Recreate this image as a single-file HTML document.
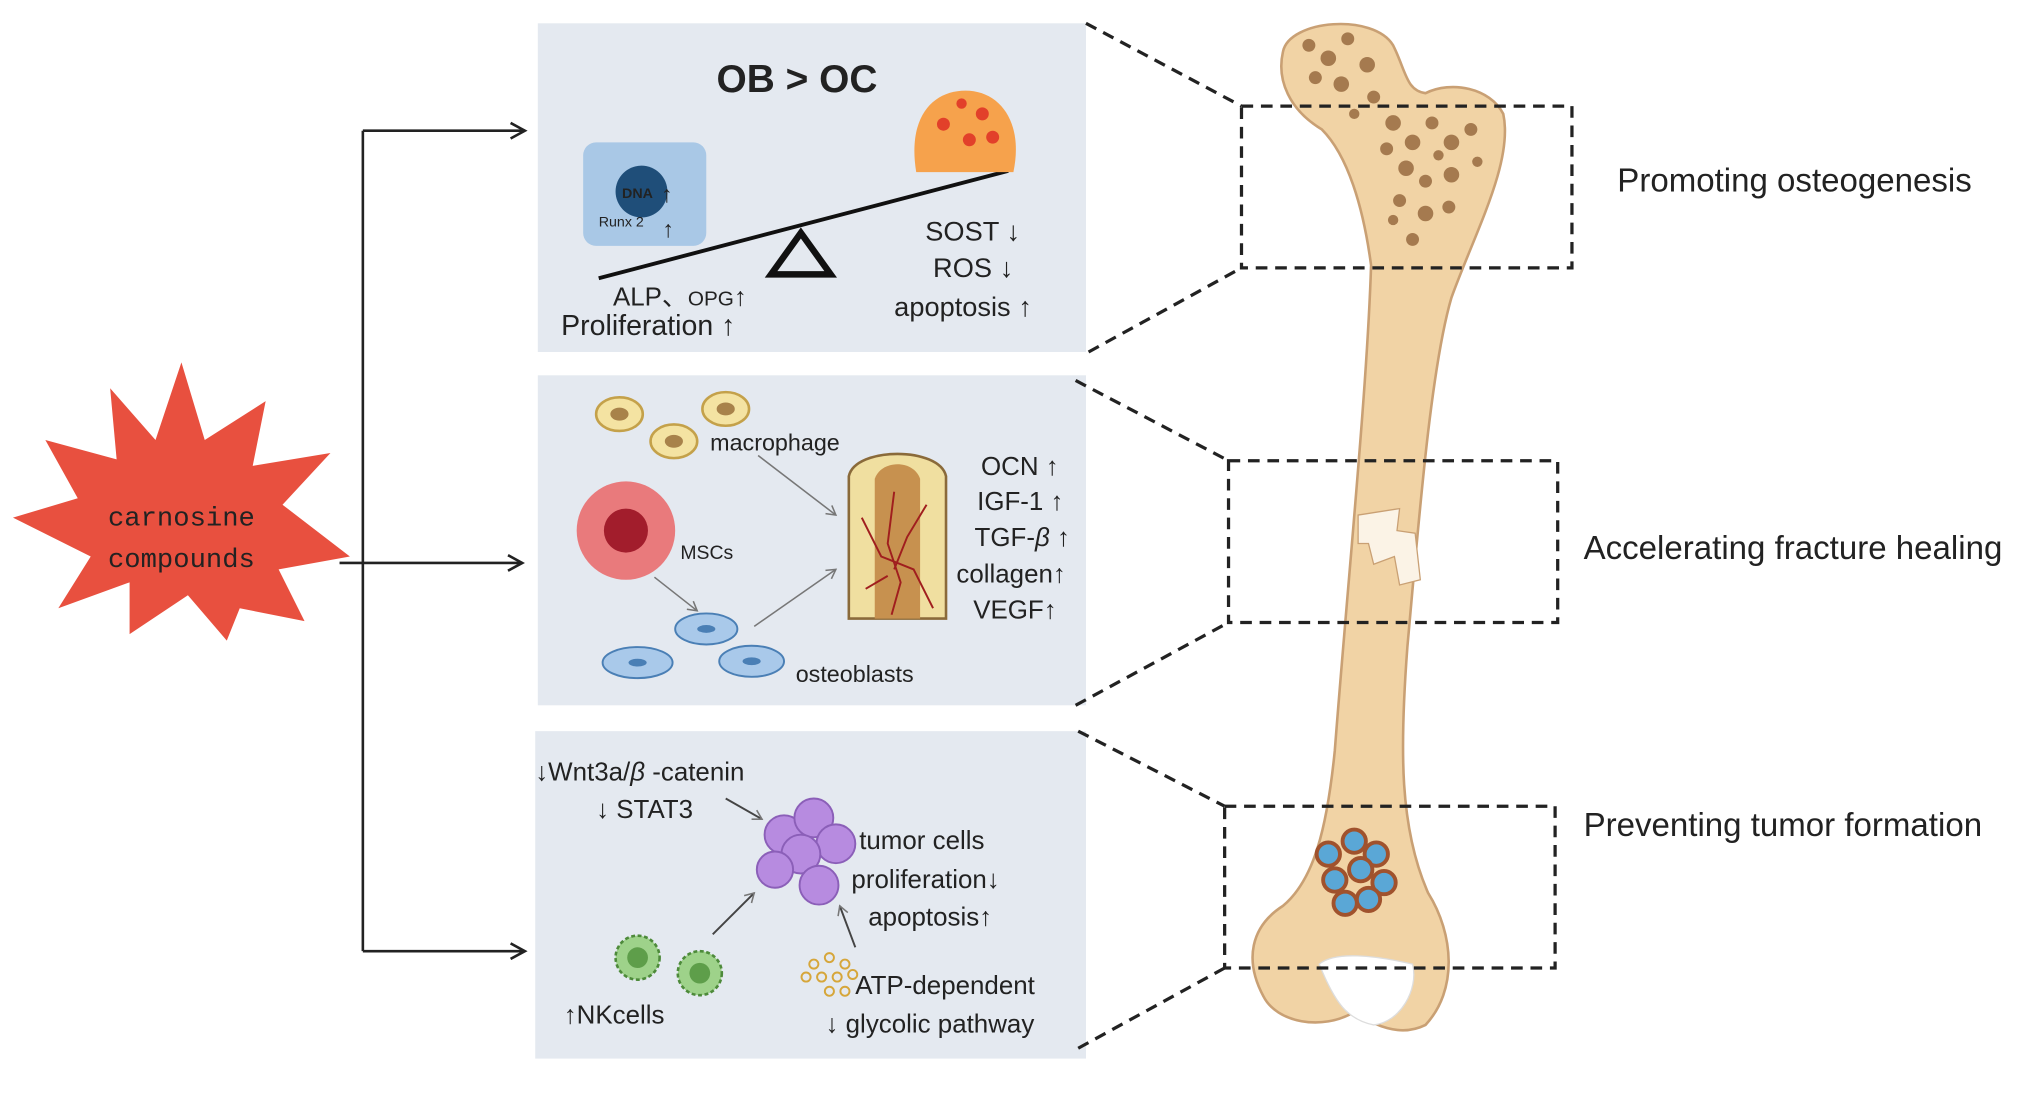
<!DOCTYPE html>
<html><head><meta charset="utf-8"><style>
html,body{margin:0;padding:0;background:#fff;width:2032px;height:1100px;overflow:hidden}
svg{display:block}
text{font-family:"Liberation Sans",sans-serif;fill:#222}
</style></head><body>
<svg width="2032" height="1100" viewBox="0 0 1568 850" preserveAspectRatio="none" xmlns="http://www.w3.org/2000/svg">
<defs>
<marker id="ah" markerWidth="14" markerHeight="14" refX="12" refY="7" orient="auto" markerUnits="userSpaceOnUse">
<path d="M1,1 L12,7 L1,13" fill="none" stroke="#222" stroke-width="2"/></marker>
<marker id="sa" markerWidth="10" markerHeight="10" refX="8" refY="5" orient="auto" markerUnits="userSpaceOnUse">
<path d="M1,1 L8,5 L1,9" fill="none" stroke="#777" stroke-width="1.2"/></marker>
</defs>

<polygon fill="#e8503f" points="140,280 158,340 205,310 195,360 255,350 218,390 270,430 215,440 235,480 185,470 175,495 145,460 100,490 100,450 45,470 70,430 10,400 60,385 35,340 90,355 85,300 120,340" />
<text x="140" y="406" text-anchor="middle" style="font-family:'Liberation Mono',monospace;font-size:21px">carnosine</text>
<text x="140" y="438" text-anchor="middle" style="font-family:'Liberation Mono',monospace;font-size:21px">compounds</text>

<g stroke="#222" stroke-width="2" fill="none">
<line x1="262" y1="435" x2="280" y2="435"/>
<line x1="280" y1="101" x2="280" y2="735"/>
<line x1="280" y1="101" x2="405" y2="101" marker-end="url(#ah)"/>
<line x1="280" y1="435" x2="403" y2="435" marker-end="url(#ah)"/>
<line x1="280" y1="735" x2="405" y2="735" marker-end="url(#ah)"/>
</g>

<rect x="415" y="18" width="423" height="254" fill="#e4e9f0"/>
<rect x="415" y="290" width="423" height="255" fill="#e4e9f0"/>
<rect x="413" y="565" width="425" height="253" fill="#e4e9f0"/>

<text x="615" y="71" text-anchor="middle" style="font-size:30px;font-weight:bold">OB &gt; OC</text>
<rect x="450" y="110" width="95" height="80" rx="10" fill="#a9c8e6"/>
<circle cx="495" cy="148" r="20" fill="#1f4e79"/>
<text x="480" y="153" style="font-size:11px;font-weight:bold">DNA</text>
<text x="510" y="156" style="font-size:18px">↑</text>
<text x="462" y="175" style="font-size:11px">Runx 2</text>
<text x="511" y="183" style="font-size:18px">↑</text>
<line x1="462" y1="215" x2="778" y2="132" stroke="#111" stroke-width="3"/>
<polygon points="618,180 595,212 641,212" fill="none" stroke="#111" stroke-width="5"/>
<path d="M707,133 C700,90 720,70 745,70 C772,70 790,95 782,133 Z" fill="#f6a24c"/>
<circle cx="728" cy="96" r="5" fill="#e2402a"/><circle cx="758" cy="88" r="5" fill="#e2402a"/>
<circle cx="748" cy="108" r="5" fill="#e2402a"/><circle cx="766" cy="106" r="5" fill="#e2402a"/>
<circle cx="742" cy="80" r="4" fill="#e2402a"/>
<text x="473" y="236" style="font-size:20px">ALP、<tspan style="font-size:16px">OPG</tspan>↑</text>
<text x="433" y="259" style="font-size:22px">Proliferation ↑</text>
<text x="714" y="186" style="font-size:21px">SOST ↓</text>
<text x="720" y="214" style="font-size:21px">ROS ↓</text>
<text x="690" y="244" style="font-size:21px">apoptosis ↑</text>

<g fill="#f4e3a2" stroke="#c4a14a" stroke-width="2">
<ellipse cx="478" cy="320" rx="18" ry="13"/><ellipse cx="520" cy="341" rx="18" ry="13"/><ellipse cx="560" cy="316" rx="18" ry="13"/></g>
<g fill="#a8824a"><ellipse cx="478" cy="320" rx="7" ry="5"/><ellipse cx="520" cy="341" rx="7" ry="5"/><ellipse cx="560" cy="316" rx="7" ry="5"/></g>
<text x="548" y="348" style="font-size:18px">macrophage</text>
<circle cx="483" cy="410" r="38" fill="#e97a7c"/>
<circle cx="483" cy="410" r="17" fill="#a21d2c"/>
<text x="525" y="432" style="font-size:15px">MSCs</text>
<g fill="#a9c9ea" stroke="#4a7fb5" stroke-width="1.5">
<ellipse cx="492" cy="512" rx="27" ry="12"/><ellipse cx="545" cy="486" rx="24" ry="12"/><ellipse cx="580" cy="511" rx="25" ry="12"/></g>
<g fill="#4a7fb5"><ellipse cx="492" cy="512" rx="7" ry="3"/><ellipse cx="545" cy="486" rx="7" ry="3"/><ellipse cx="580" cy="511" rx="7" ry="3"/></g>
<text x="614" y="527" style="font-size:18px">osteoblasts</text>
<g stroke="#777" stroke-width="1.2">
<line x1="585" y1="352" x2="645" y2="398" marker-end="url(#sa)"/>
<line x1="505" y1="446" x2="538" y2="472" marker-end="url(#sa)"/>
<line x1="582" y1="484" x2="645" y2="440" marker-end="url(#sa)"/>
</g>
<path d="M655,368 C660,345 725,345 730,368 L730,478 L655,478 Z" fill="#f0dfa0" stroke="#8a6a3a" stroke-width="2"/>
<path d="M675,370 C680,355 705,355 710,370 L710,478 L675,478 Z" fill="#c7914f"/>
<g stroke="#a01e1e" stroke-width="1.5" fill="none">
<path d="M690,380 L685,420 L695,450 L688,475"/><path d="M665,400 L680,430 L705,440 L720,470"/><path d="M715,390 L700,415 L690,440"/><path d="M668,455 L685,445"/></g>
<text x="757" y="367" style="font-size:20px">OCN ↑</text>
<text x="754" y="394" style="font-size:20px">IGF-1 ↑</text>
<text x="752" y="422" style="font-size:20px">TGF-<tspan font-style="italic">β</tspan> ↑</text>
<text x="738" y="450" style="font-size:20px">collagen↑</text>
<text x="751" y="478" style="font-size:20px">VEGF↑</text>

<text x="413" y="603" style="font-size:20px">↓Wnt3a/<tspan font-style="italic">β</tspan> -catenin</text>
<text x="460" y="632" style="font-size:20px">↓ STAT3</text>
<g fill="#b78be0" stroke="#8b5fb8" stroke-width="1.5">
<circle cx="605" cy="645" r="15"/><circle cx="628" cy="632" r="15"/><circle cx="645" cy="652" r="15"/><circle cx="618" cy="660" r="15"/><circle cx="598" cy="672" r="14"/><circle cx="632" cy="684" r="15"/></g>
<line x1="560" y1="617" x2="588" y2="633" stroke="#444" stroke-width="1.5" marker-end="url(#sa)"/>
<line x1="550" y1="722" x2="582" y2="690" stroke="#444" stroke-width="1.5" marker-end="url(#sa)"/>
<line x1="660" y1="732" x2="648" y2="700" stroke="#444" stroke-width="1.5" marker-end="url(#sa)"/>
<text x="663" y="656" style="font-size:20px">tumor cells</text>
<text x="657" y="686" style="font-size:20px">proliferation↓</text>
<text x="670" y="715" style="font-size:20px">apoptosis↑</text>
<g fill="#9ed28a" stroke="#4d8a3a" stroke-width="2" stroke-dasharray="3 2">
<circle cx="492" cy="740" r="17"/><circle cx="540" cy="752" r="17"/></g>
<circle cx="492" cy="740" r="8" fill="#5e9e4a"/><circle cx="540" cy="752" r="8" fill="#5e9e4a"/>
<text x="435" y="791" style="font-size:20px">↑NKcells</text>
<g fill="none" stroke="#d6a63a" stroke-width="1.5">
<circle cx="628" cy="745" r="3.5"/><circle cx="640" cy="740" r="3.5"/><circle cx="652" cy="745" r="3.5"/><circle cx="622" cy="755" r="3.5"/><circle cx="634" cy="755" r="3.5"/><circle cx="646" cy="755" r="3.5"/><circle cx="658" cy="753" r="3.5"/><circle cx="640" cy="766" r="3.5"/><circle cx="652" cy="766" r="3.5"/></g>
<text x="660" y="768" style="font-size:20px">ATP-dependent</text>
<text x="637" y="798" style="font-size:20px">↓ glycolic pathway</text>

<!-- bone -->
<path d="M990,40 C995,15 1060,10 1075,35 C1085,55 1085,70 1100,72 C1120,62 1150,68 1160,88 C1168,125 1138,180 1120,230 C1104,285 1095,400 1086,500 C1080,580 1080,640 1102,690 C1122,722 1125,765 1100,792 C1080,802 1060,792 1045,782 C1020,797 985,790 975,770 C960,742 965,716 990,700 C1014,680 1024,640 1030,580 C1040,450 1055,300 1058,205 C1052,160 1040,120 1020,100 C995,85 985,62 990,40 Z" fill="#f1d3a5" stroke="#c9a074" stroke-width="2"/>
<g fill="#a57a4f">
<circle cx="1010" cy="35" r="5"/><circle cx="1025" cy="45" r="6"/><circle cx="1040" cy="30" r="5"/><circle cx="1055" cy="50" r="6"/><circle cx="1015" cy="60" r="5"/><circle cx="1035" cy="65" r="6"/><circle cx="1060" cy="75" r="5"/><circle cx="1075" cy="95" r="6"/><circle cx="1090" cy="110" r="6"/><circle cx="1105" cy="95" r="5"/><circle cx="1120" cy="110" r="6"/><circle cx="1085" cy="130" r="6"/><circle cx="1100" cy="140" r="5"/><circle cx="1120" cy="135" r="6"/><circle cx="1135" cy="100" r="5"/><circle cx="1080" cy="155" r="5"/><circle cx="1100" cy="165" r="6"/><circle cx="1118" cy="160" r="5"/><circle cx="1090" cy="185" r="5"/><circle cx="1070" cy="115" r="5"/><circle cx="1045" cy="88" r="4"/><circle cx="1140" cy="125" r="4"/><circle cx="1110" cy="120" r="4"/><circle cx="1075" cy="170" r="4"/></g>
<path d="M1048,398 L1080,393 L1078,410 L1092,412 L1096,448 L1080,452 L1076,430 L1060,436 L1056,420 L1048,420 Z" fill="#fbf3e6" stroke="#c9a074" stroke-width="1"/>
<path d="M1018,745 C1030,735 1060,738 1090,745 C1095,765 1080,790 1060,792 C1040,788 1030,775 1018,745 Z" fill="#fff" stroke="#ddd"/>
<g fill="#5aa7d6" stroke="#a0522d" stroke-width="3">
<circle cx="1025" cy="660" r="9"/><circle cx="1045" cy="650" r="9"/><circle cx="1062" cy="660" r="9"/><circle cx="1030" cy="680" r="9"/><circle cx="1050" cy="672" r="9"/><circle cx="1068" cy="682" r="9"/><circle cx="1038" cy="698" r="9"/><circle cx="1056" cy="695" r="9"/></g>

<g fill="none" stroke="#222" stroke-width="2.5" stroke-dasharray="9 6">
<rect x="958" y="82" width="255" height="125"/>
<rect x="948" y="356" width="254" height="125"/>
<rect x="945" y="623" width="255" height="125"/>
<line x1="838" y1="18" x2="958" y2="82"/><line x1="840" y1="272" x2="958" y2="207"/>
<line x1="830" y1="294" x2="948" y2="356"/><line x1="830" y1="545" x2="948" y2="481"/>
<line x1="832" y1="565" x2="945" y2="623"/><line x1="832" y1="810" x2="945" y2="748"/>
</g>

<text x="1248" y="148" style="font-size:25.5px">Promoting osteogenesis</text>
<text x="1222" y="432" style="font-size:25.5px">Accelerating fracture healing</text>
<text x="1222" y="646" style="font-size:25.5px">Preventing tumor formation</text>
</svg>
</body></html>
